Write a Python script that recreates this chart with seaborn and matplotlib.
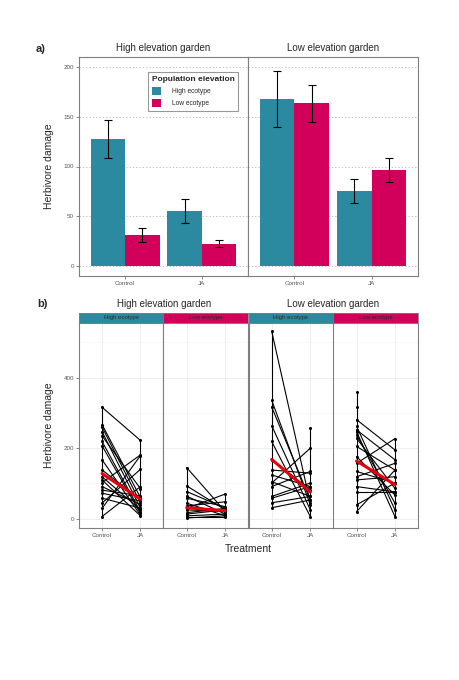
import numpy as np
import pandas as pd
import matplotlib
matplotlib.use("Agg")
import matplotlib.pyplot as plt
from matplotlib.patches import Patch
import seaborn as sns

# ---- data -----------------------------------------------------------
gardens = ["High elevation garden", "Low elevation garden"]
ecotypes = ["High ecotype", "Low ecotype"]
treatments = ["Control", "JA"]

# panel a) mean herbivore damage and SE, order: garden -> ecotype -> treatment
mean_damage = {
    ("High elevation garden", "High ecotype"): [128, 55],
    ("High elevation garden", "Low ecotype"): [31, 22.5],
    ("Low elevation garden", "High ecotype"): [168, 75.5],
    ("Low elevation garden", "Low ecotype"): [163.5, 96.5],
}
se_damage = {
    ("High elevation garden", "High ecotype"): [19, 12],
    ("High elevation garden", "Low ecotype"): [7, 3.3],
    ("Low elevation garden", "High ecotype"): [28, 12],
    ("Low elevation garden", "Low ecotype"): [18.5, 12.2],
}

# panel b) individual plants (control, JA)
hh_control = [316, 267, 260, 247, 235, 219, 207, 167, 138, 119, 110, 102, 91, 81, 72, 58, 44, 29, 6]
hh_ja = [222, 60, 45, 30, 85, 20, 15, 10, 55, 25, 8, 181, 40, 65, 50, 30, 140, 179, 91]
hl_control = [145, 93, 77, 64, 58, 44, 36, 29, 25, 17, 13, 8, 4, 2]
hl_ja = [20, 25, 30, 13, 34, 8, 48, 70, 20, 29, 25, 13, 4, 8]
lh_control = [532, 336, 317, 264, 219, 167, 138, 124, 105, 101, 91, 63, 58, 45, 31, np.nan]
lh_ja = [44, 39, 53, 25, 6, 82, 129, 91, 63, 200, 134, 101, 91, 63, 53, 257]
ll_control = [281, 262, 252, 247, 238, 228, 205, 176, 157, 134, 119, 110, 91, 76, 39, 20, 358, 318]
ll_ja = [195, 25, 167, 6, 44, 86, 138, 67, 227, 101, 157, 119, 76, 76, 101, 138, np.nan, np.nan]

plants = {
    ("High elevation garden", "High ecotype"): (hh_control, hh_ja),
    ("High elevation garden", "Low ecotype"): (hl_control, hl_ja),
    ("Low elevation garden", "High ecotype"): (lh_control, lh_ja),
    ("Low elevation garden", "Low ecotype"): (ll_control, ll_ja),
}

colors = {"High ecotype": "#2B8AA0", "Low ecotype": "#D2005A"}

# ---- style ----------------------------------------------------------
sns.set_theme(style="white")
plt.rcParams["font.family"] = ["Liberation Sans", "DejaVu Sans"]
tick_col = "#555555"
frame_col = "#7f7f7f"

W, H = 460, 680
fig = plt.figure(figsize=(W / 100, H / 100), dpi=100)


def px_axes(x0, y0, x1, y1):
    return fig.add_axes([x0 / W, 1 - y1 / H, (x1 - x0) / W, (y1 - y0) / H])


def style_frame(ax):
    for s in ax.spines.values():
        s.set_color(frame_col)
        s.set_linewidth(0.8)
    ax.tick_params(axis="both", length=2, width=0.5, color=tick_col,
                   labelsize=4.5, labelcolor=tick_col, pad=1.5,
                   bottom=True, left=True)


# ---- panel a) -------------------------------------------------------
edges_a = [79, 248, 418]
width = 0.9
for gi, garden in enumerate(gardens):
    ax = px_axes(edges_a[gi], 57, edges_a[gi + 1], 276)
    rows = []
    for eco in ecotypes:
        for ti, tr in enumerate(treatments):
            rows.append({"Treatment": tr, "Ecotype": eco,
                         "damage": mean_damage[(garden, eco)][ti],
                         "se": se_damage[(garden, eco)][ti]})
    df = pd.DataFrame(rows)
    sns.barplot(data=df, x="Treatment", y="damage", hue="Ecotype",
                order=treatments, hue_order=ecotypes, palette=colors,
                errorbar=None, width=width, saturation=1, ax=ax, legend=False,
                linewidth=0)
    for hi, eco in enumerate(ecotypes):
        sub = df[df["Ecotype"] == eco]
        xpos = np.arange(len(treatments)) + (hi - 0.5) * width / 2
        ax.errorbar(xpos, sub["damage"], yerr=sub["se"], fmt="none",
                    ecolor="black", elinewidth=0.8, capsize=3, capthick=0.8)
    ax.set_xlim(-0.6, 1.6)
    ax.set_ylim(-10, 210)
    ax.set_yticks([0, 50, 100, 150, 200])
    for yv in [0, 50, 100, 150, 200]:
        ax.axhline(yv, color="#b5b5b5", lw=0.6, ls=(0, (1.5, 2.5)), zorder=0)
    ax.set_xlabel("")
    ax.set_ylabel("")
    style_frame(ax)
    ax.set_title(garden, fontsize=7, pad=4)
    if gi == 0:
        ax.set_ylabel("Herbivore damage", fontsize=7.5, labelpad=7)
        handles = [Patch(facecolor=colors[e], edgecolor="none", label=e) for e in ecotypes]
        leg = ax.legend(handles=handles, title="Population elevation",
                        loc="upper left", bbox_to_anchor=(0.41, 0.932),
                        borderaxespad=0, fontsize=4.8, title_fontsize=6,
                        fancybox=False, frameon=True, handlelength=1.4,
                        handleheight=1.5, labelspacing=0.6, borderpad=0.55,
                        handletextpad=1.6)
        leg.get_title().set_fontweight("bold")
        leg.get_frame().set_edgecolor(frame_col)
        leg.get_frame().set_linewidth(0.8)
        leg._legend_box.align = "left"
    else:
        ax.tick_params(axis="y", left=False, labelleft=False)

fig.text(36 / W, 1 - 49 / H, "a)", fontsize=8, fontweight="bold", va="center")

# ---- panel b) -------------------------------------------------------
edges_b = [79, 163.5, 248.5, 333.5, 418]
pi = 0
for garden in gardens:
    for eco in ecotypes:
        ax = px_axes(edges_b[pi], 322.5, edges_b[pi + 1], 528)
        ctrl, ja = plants[(garden, eco)]
        n = len(ctrl)
        df = pd.DataFrame({
            "plant": list(range(n)) * 2,
            "x": [0] * n + [1] * n,
            "damage": list(ctrl) + list(ja),
        }).dropna()
        ax.set_axisbelow(True)
        ax.grid(True, which="major", color="#ebebeb", lw=0.6)
        ax.grid(True, which="minor", axis="y", color="#f4f4f4", lw=0.4)
        ax.set_yticks([100, 300, 500], minor=True)
        # vertical lines joining points at each treatment
        for xv, grp in df.groupby("x"):
            ax.vlines(xv, grp["damage"].min(), grp["damage"].max(),
                      color="black", lw=0.8)
        sns.lineplot(data=df, x="x", y="damage", units="plant", estimator=None,
                     color="black", lw=0.8, marker="o", markersize=2.2,
                     markeredgewidth=0, ax=ax)
        means = pd.DataFrame({"x": [0, 1], "damage": mean_damage[(garden, eco)]})
        sns.lineplot(data=means, x="x", y="damage", color="#E8000B", lw=2.2, ax=ax)
        ax.set_xlim(-0.6, 1.6)
        ax.set_ylim(-26.5, 556.5)
        ax.set_xticks([0, 1])
        ax.set_xticklabels(treatments)
        ax.set_yticks([0, 200, 400])
        ax.set_xlabel("")
        ax.set_ylabel("")
        style_frame(ax)
        ax.tick_params(axis="y", which="minor", left=False)
        if pi == 0:
            ax.set_ylabel("Herbivore damage", fontsize=7.5, labelpad=7)
        else:
            ax.tick_params(axis="y", left=False, labelleft=False)
        # strip
        strip = px_axes(edges_b[pi], 313, edges_b[pi + 1], 322.5)
        strip.set_facecolor(colors[eco])
        strip.set_xticks([])
        strip.set_yticks([])
        for s in strip.spines.values():
            s.set_color(frame_col)
            s.set_linewidth(0.6)
        strip.text(0.5, 0.5, eco, ha="center", va="center", fontsize=4.3,
                   color="#2a2a2a", transform=strip.transAxes)
        pi += 1

for gi, garden in enumerate(gardens):
    xc = (edges_b[2 * gi] + edges_b[2 * gi + 2]) / 2
    fig.text(xc / W, 1 - 304 / H, garden, fontsize=7, ha="center", va="center")
fig.text(37 / W, 1 - 304 / H, "b)", fontsize=8, fontweight="bold", va="center")
fig.text(248 / W, 1 - 549 / H, "Treatment", fontsize=7.5, ha="center", va="center")

fig.savefig("out.png", dpi=100)
